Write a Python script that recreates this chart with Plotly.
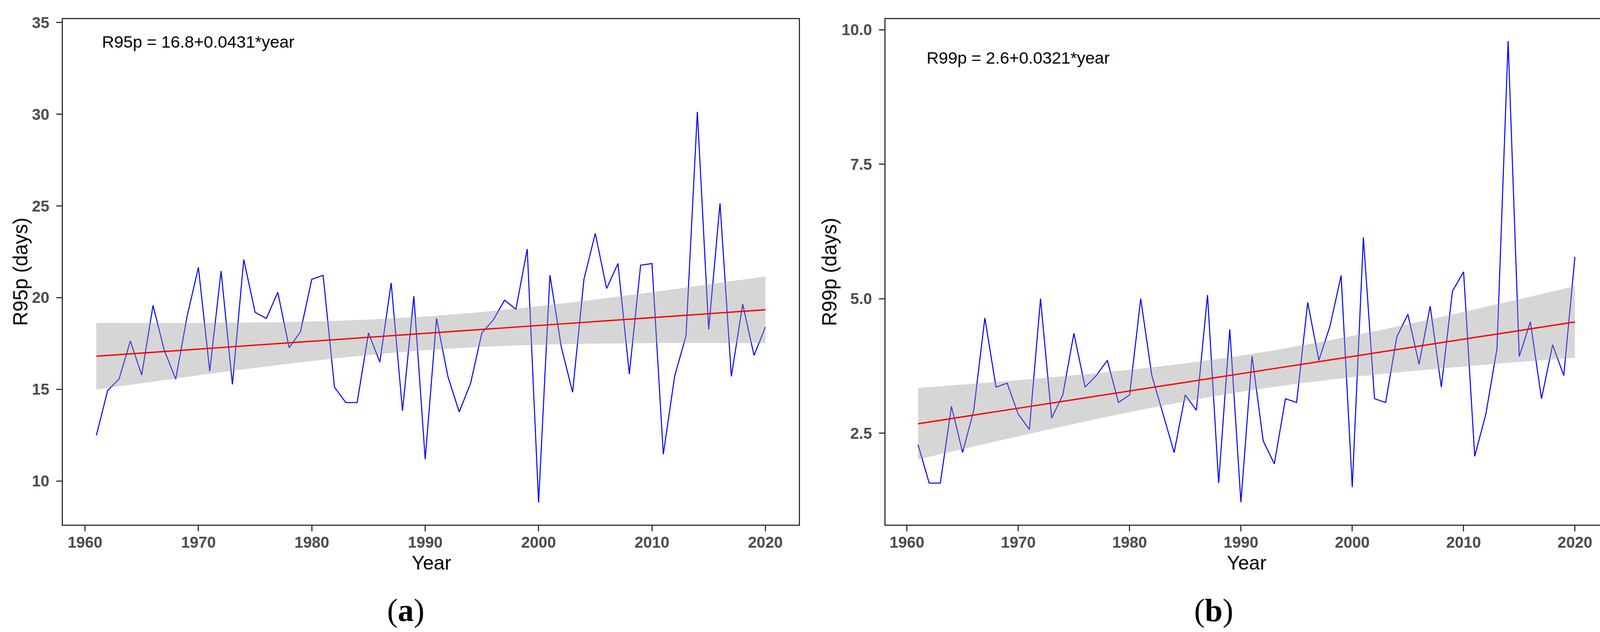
import numpy as np
import plotly.graph_objects as go

years = list(range(1961, 2021))
r95p = [12.49, 14.94, 15.56, 17.64, 15.78, 19.58, 17.11, 15.56, 18.97, 21.65,
        15.99, 21.45, 15.27, 22.08, 19.20, 18.87, 20.30, 17.27, 18.14, 21.00,
        21.22, 15.12, 14.28, 14.28, 18.08, 16.49, 20.80, 13.83, 20.08, 11.19,
        18.87, 15.71, 13.77, 15.32, 18.08, 18.78, 19.86, 19.37, 22.65, 8.83,
        21.23, 17.32, 14.84, 21.00, 23.50, 20.50, 21.86, 15.84, 21.77, 21.86,
        11.46, 15.72, 17.92, 30.13, 18.26, 25.14, 15.71, 19.65, 16.85, 18.40]
r99p = [2.285, 1.572, 1.572, 3.00, 2.14, 2.92, 4.64, 3.356, 3.43, 2.854,
        2.567, 5.00, 2.78, 3.21, 4.355, 3.356, 3.57, 3.853, 3.07, 3.21,
        5.00, 3.57, 2.86, 2.14, 3.21, 2.926, 5.07, 1.572, 4.43, 1.214,
        3.933, 2.357, 1.93, 3.14, 3.07, 4.93, 3.853, 4.49, 5.43, 1.497,
        6.14, 3.14, 3.07, 4.29, 4.71, 3.78, 4.86, 3.356, 5.14, 5.50,
        2.07, 2.854, 4.07, 9.79, 3.925, 4.57, 3.14, 4.144, 3.57, 5.776]

eq_a = "R95p = 16.8+0.0431*year"
eq_b = "R99p = 2.6+0.0321*year"
ylab_a = "R95p (days)"
ylab_b = "R99p (days)"
xlab = "Year"
xticks = [1960, 1970, 1980, 1990, 2000, 2010, 2020]
yticks_a = [10, 15, 20, 25, 30, 35]
yticks_b = [2.5, 5.0, 7.5, 10.0]

T975 = 2.0017  # t quantile, df = 58


def smooth(x, y):
    x = np.asarray(x, float)
    y = np.asarray(y, float)
    n = len(x)
    b, a = np.polyfit(x, y, 1)
    fit = a + b * x
    s = np.sqrt(np.sum((y - fit) ** 2) / (n - 2))
    sxx = np.sum((x - x.mean()) ** 2)
    se = s * np.sqrt(1.0 / n + (x - x.mean()) ** 2 / sxx)
    return fit, fit - T975 * se, fit + T975 * se


W, H = 4142, 1619
fig = go.Figure()

panels = [
    (r95p, "x", "y"),
    (r99p, "x2", "y2"),
]
for vals, xa, ya in panels:
    fit, lo, hi = smooth(years, vals)
    fig.add_trace(go.Scatter(x=years, y=vals, mode="lines",
                             line=dict(color="#0000FF", width=2.6),
                             xaxis=xa, yaxis=ya, showlegend=False))
    fig.add_trace(go.Scatter(x=years + years[::-1],
                             y=list(hi) + list(lo[::-1]),
                             fill="toself", fillcolor="rgba(153,153,153,0.4)",
                             line=dict(width=0), mode="lines",
                             xaxis=xa, yaxis=ya, showlegend=False))
    fig.add_trace(go.Scatter(x=years, y=fit, mode="lines",
                             line=dict(color="#FF0000", width=3.4),
                             xaxis=xa, yaxis=ya, showlegend=False))

tickfont = dict(family="Liberation Sans, Arial", size=40, color="#4D4D4D", weight="bold")
axis_common = dict(showline=True, mirror=True, linecolor="#333333", linewidth=2.5,
                   ticks="outside", ticklen=14, tickwidth=3, tickcolor="#333333",
                   showgrid=False, zeroline=False, tickfont=tickfont)

ytop, ybot = 1 - 36 / H, 1 - 1342 / H
fig.update_layout(
    width=W, height=H,
    margin=dict(l=0, r=0, t=0, b=0),
    paper_bgcolor="white", plot_bgcolor="white",
    xaxis=dict(domain=[161 / W, 2045 / W], range=[1958.05, 2022.95],
               tickvals=xticks, anchor="y", ticklabelstandoff=-6, **axis_common),
    yaxis=dict(domain=[ybot, ytop], range=[7.62, 35.19],
               tickvals=yticks_a, anchor="x", ticklabelstandoff=10, **axis_common),
    xaxis2=dict(domain=[2267 / W, 4115 / W], range=[1958.08, 2022.92],
                tickvals=xticks, anchor="y2", ticklabelstandoff=-6, **axis_common),
    yaxis2=dict(domain=[ybot, ytop], range=[0.797, 10.2],
                tickvals=yticks_b, tickformat=".1f", anchor="x2",
                ticklabelstandoff=10, **axis_common),
)

labfont = dict(family="Liberation Sans, Arial", size=50, color="black")
eqfont = dict(family="Liberation Sans, Arial", size=43, color="black")
serif = dict(family="Liberation Serif, Times New Roman", size=82, color="black")

ann = [
    dict(x=1970, y=33.95, xref="x", yref="y", text=eq_a, showarrow=False,
         font=eqfont, xanchor="center", yanchor="middle"),
    dict(x=1970, y=9.48, xref="x2", yref="y2", text=eq_b, showarrow=False,
         font=eqfont, xanchor="center", yanchor="middle"),
    dict(x=1104 / W, y=1 - 1441 / H, xref="paper", yref="paper", text=xlab,
         showarrow=False, font=labfont, xanchor="center", yanchor="middle", borderpad=0),
    dict(x=3191 / W, y=1 - 1441 / H, xref="paper", yref="paper", text=xlab,
         showarrow=False, font=labfont, xanchor="center", yanchor="middle", borderpad=0),
    dict(x=52.5 / W, y=1 - 689 / H, xref="paper", yref="paper", text=ylab_a,
         showarrow=False, font=dict(labfont, size=51), textangle=-90,
         xanchor="center", yanchor="middle"),
    dict(x=2123 / W, y=1 - 689 / H, xref="paper", yref="paper", text=ylab_b,
         showarrow=False, font=dict(labfont, size=51), textangle=-90,
         xanchor="center", yanchor="middle"),
    dict(x=1039 / W, y=1 - 1563 / H, xref="paper", yref="paper", text="(<b>a</b>)",
         showarrow=False, font=serif, xanchor="center", yanchor="middle"),
    dict(x=3107 / W, y=1 - 1563 / H, xref="paper", yref="paper", text="(<b>b</b>)",
         showarrow=False, font=serif, xanchor="center", yanchor="middle"),
]
fig.update_layout(annotations=ann)

fig.write_html("out.html", config={"displayModeBar": False},
               post_script="document.body.style.margin='0';document.body.style.overflow='hidden';")
